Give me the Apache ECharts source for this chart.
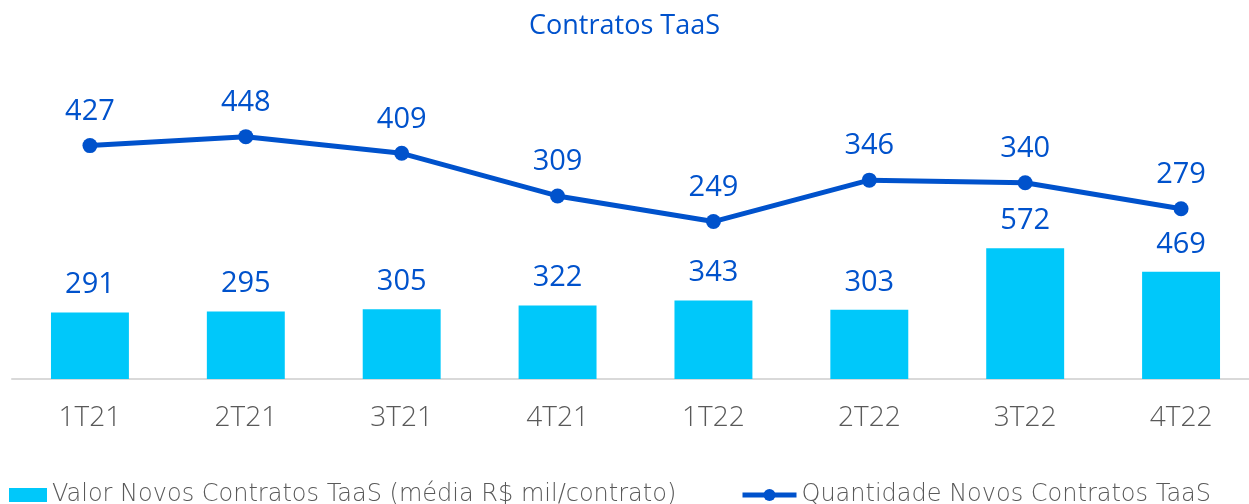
<!DOCTYPE html>
<html>
<head>
<meta charset="utf-8">
<script src="https://cdn.jsdelivr.net/npm/echarts@6/dist/echarts.min.js"></script>
<style>
  html, body { margin: 0; padding: 0; background: #fff; }
  #chart { width: 1249px; height: 504px; }
</style>
</head>
<body>
<div id="chart"></div>
<script>
// quarters on the x axis
const quarters = ["1T21", "2T21", "3T21", "4T21", "1T22", "2T22", "3T22", "4T22"];
// average value of new TaaS contracts (R$ mil/contrato)
const valorMedio = [291, 295, 305, 322, 343, 303, 572, 469];
// number of new TaaS contracts
const quantidade = [427, 448, 409, 309, 249, 346, 340, 279];

const barName = "Valor Novos Contratos TaaS (média R$ mil/contrato)";
const lineName = "Quantidade Novos Contratos TaaS";

const blue = "#0052CC";
const cyan = "#00C8FA";
const font = "Open Sans";
const legendText = { color: "#595959", fontSize: 24, fontWeight: 200, fontFamily: "DejaVu Sans" };

const chart = echarts.init(document.getElementById("chart"));
chart.setOption({
  animation: false,
  textStyle: { fontFamily: font },
  title: {
    text: "Contratos TaaS",
    left: "center",
    top: 8,
    textStyle: { color: blue, fontSize: 27, fontWeight: "normal", fontFamily: font }
  },
  legend: [
    {
      data: [barName],
      left: 9,
      top: 483,
      padding: 0,
      icon: "rect",
      itemWidth: 38,
      itemHeight: 14,
      textStyle: legendText
    },
    {
      data: [lineName],
      left: 740,
      top: 483,
      padding: 0,
      itemWidth: 54,
      itemHeight: 15,
      lineStyle: { width: 5 },
      textStyle: legendText
    }
  ],
  grid: { left: 12, top: 59, width: 1247, height: 320, containLabel: false, outerBoundsMode: "none" },
  xAxis: {
    type: "category",
    data: quarters,
    axisLine: { lineStyle: { color: "#d9d9d9", width: 2 } },
    axisTick: { show: false },
    axisLabel: { color: "#595959", fontSize: 28, fontWeight: 300, margin: 25, fontFamily: font }
  },
  yAxis: [
    { type: "value", min: 0, max: 1400, show: false, splitLine: { show: false } },
    { type: "value", min: -120, max: 630, show: false, splitLine: { show: false } }
  ],
  series: [
    {
      name: barName,
      type: "bar",
      data: valorMedio,
      yAxisIndex: 0,
      barWidth: "50%",
      itemStyle: { color: cyan },
      label: {
        show: true,
        position: "top",
        distance: 13,
        color: blue,
        fontSize: 29,
        fontFamily: font
      }
    },
    {
      name: lineName,
      type: "line",
      data: quantidade,
      yAxisIndex: 1,
      symbol: "circle",
      symbolSize: 15,
      lineStyle: { color: blue, width: 5 },
      itemStyle: { color: blue },
      label: {
        show: true,
        position: "top",
        distance: 12,
        color: blue,
        fontSize: 29,
        fontFamily: font
      }
    }
  ]
});
</script>
</body>
</html>
